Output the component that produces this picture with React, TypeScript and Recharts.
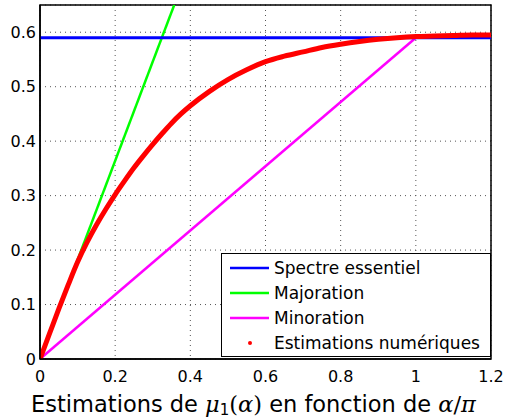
import React from 'react';
import {
  ComposedChart,
  Line,
  XAxis,
  YAxis,
  CartesianGrid,
  ReferenceArea,
} from 'recharts';

// x = alpha / pi
const xTicks = [0, 0.2, 0.4, 0.6, 0.8, 1, 1.2];
const yTicks = [0, 0.1, 0.2, 0.3, 0.4, 0.5, 0.6];

const spectreEssentiel = [
  { x: 0, y: 0.59 },
  { x: 1.2, y: 0.59 },
];

const majoration = [
  { x: 0, y: 0 },
  { x: 0.4, y: 0.728 },
];

const minoration = [
  { x: 0, y: 0 },
  { x: 1, y: 0.59 },
];

const estimationsX = [
  0, 0.025, 0.05, 0.075, 0.1, 0.125, 0.15, 0.175, 0.2, 0.225, 0.25, 0.275,
  0.3, 0.325, 0.35, 0.375, 0.4, 0.45, 0.5, 0.55, 0.6, 0.65, 0.7, 0.75, 0.8,
  0.85, 0.9, 0.95, 1, 1.05, 1.1, 1.15, 1.2,
];
const estimationsY = [
  0, 0.046, 0.092, 0.136, 0.178, 0.214, 0.246, 0.275, 0.302, 0.327, 0.351,
  0.373, 0.394, 0.414, 0.433, 0.45, 0.465, 0.491, 0.513, 0.531, 0.546, 0.556,
  0.564, 0.572, 0.578, 0.583, 0.587, 0.59, 0.592, 0.593, 0.594, 0.595, 0.595,
];

const estimations = estimationsX.map((x, i) => ({ x, y: estimationsY[i] }));

const legendItems = [
  { label: 'Spectre essentiel', color: '#0000ff', kind: 'line' },
  { label: 'Majoration', color: '#00ff00', kind: 'line' },
  { label: 'Minoration', color: '#ff00ff', kind: 'line' },
  { label: 'Estimations numériques', color: '#ff0000', kind: 'dot' },
];

const FONT = '"DejaVu Sans", Verdana, sans-serif';
const MATH = '"DejaVu Serif", serif';

const LegendBox = () => (
  <div
    style={{
      position: 'absolute',
      left: 221,
      top: 253,
      border: '1.5px solid #000',
      background: '#fff',
      boxSizing: 'border-box',
      width: 270,
      height: 104,
      padding: '1px 0 0 6px',
      fontFamily: FONT,
      fontSize: 17,
      color: '#000',
    }}
  >
    {legendItems.map((it) => (
      <div key={it.label} style={{ display: 'flex', alignItems: 'center', height: 25 }}>
        <svg width={44} height={10} style={{ marginRight: 2 }}>
          {it.kind === 'line' ? (
            <line x1={2} y1={5} x2={41} y2={5} stroke={it.color} strokeWidth={2.5} />
          ) : (
            <circle cx={22} cy={5} r={2} fill={it.color} />
          )}
        </svg>
        <span style={{ whiteSpace: 'nowrap' }}>{it.label}</span>
      </div>
    ))}
  </div>
);

const TitleLabel = (props: any) => {
  const vb = props.viewBox || { x: 40, width: 451, y: 359 };
  const cx = vb.x + vb.width / 2 - 12;
  return (
    <text
      x={cx}
      y={412}
      textAnchor="middle"
      fontFamily={FONT}
      fontSize={22.5}
      fill="#000"
    >
      <tspan>Estimations de </tspan>
      <tspan fontFamily={MATH} fontStyle="italic">μ</tspan>
      <tspan fontSize={15} dy={3}>1</tspan>
      <tspan dy={-3} fontFamily={MATH}>(</tspan>
      <tspan fontFamily={MATH} fontStyle="italic">α</tspan>
      <tspan fontFamily={MATH}>)</tspan>
      <tspan> en fonction de </tspan>
      <tspan fontFamily={MATH} fontStyle="italic">α</tspan>
      <tspan fontFamily={MATH}>/</tspan>
      <tspan fontFamily={MATH} fontStyle="italic">π</tspan>
    </text>
  );
};

export default function App() {
  return (
    <div style={{ position: 'absolute', left: 0, top: 0, width: 505, height: 420, background: '#fff' }}>
      <ComposedChart
        width={505}
        height={420}
        margin={{ top: 5, right: 14, left: 0, bottom: 0 }}
        style={{ fontFamily: FONT }}
      >
        <CartesianGrid stroke="#555" strokeDasharray="1 4" />
        <XAxis
          dataKey="x"
          type="number"
          domain={[0, 1.2]}
          ticks={xTicks}
          height={61}
          tickSize={0}
          tickMargin={12}
          axisLine={{ stroke: '#000', strokeWidth: 1.5 }}
          tick={{ fill: '#000', fontSize: 16, fontFamily: FONT }}
          allowDataOverflow
          label={<TitleLabel />}
        />
        <YAxis
          dataKey="y"
          type="number"
          domain={[0, 0.65]}
          ticks={yTicks}
          width={40}
          tickSize={0}
          tickMargin={4}
          axisLine={{ stroke: '#000', strokeWidth: 1.5 }}
          tick={{ fill: '#000', fontSize: 16, fontFamily: FONT }}
          allowDataOverflow
        />
        <ReferenceArea
          x1={0}
          x2={1.2}
          y1={0}
          y2={0.65}
          fill="none"
          stroke="#000"
          strokeWidth={1.5}
          ifOverflow="visible"
        />
        <Line
          data={minoration}
          dataKey="y"
          stroke="#ff00ff"
          strokeWidth={2.5}
          dot={false}
          isAnimationActive={false}
        />
        <Line
          data={majoration}
          dataKey="y"
          stroke="#00ff00"
          strokeWidth={2.5}
          dot={false}
          isAnimationActive={false}
        />
        <Line
          data={spectreEssentiel}
          dataKey="y"
          stroke="#0000ff"
          strokeWidth={3}
          dot={false}
          isAnimationActive={false}
        />
        <Line
          data={estimations}
          dataKey="y"
          type="monotone"
          stroke="#ff0000"
          strokeWidth={5}
          dot={false}
          isAnimationActive={false}
        />
      </ComposedChart>
      <LegendBox />
    </div>
  );
}
